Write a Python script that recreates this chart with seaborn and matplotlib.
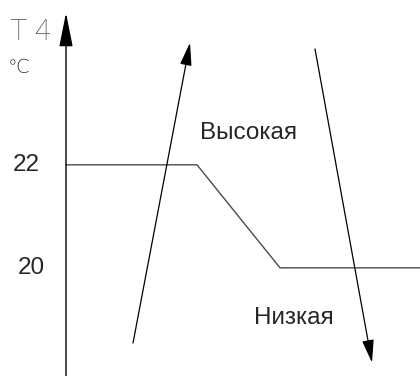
import matplotlib
matplotlib.use("Agg")
import matplotlib.pyplot as plt
import seaborn as sns
import pandas as pd

# setpoint curve (x: arbitrary units from the axis, y: temperature)
x_curve = [0, 131, 214, 354]
t_curve = [22, 22, 20, 20]
ticks = [22, 20]
tick_labels = ["22", "20"]

# rising / falling trend arrows: (x_start, t_start, x_end, t_end)
arrow_up = [67, 18.54, 124, 24.37]
arrow_down = [249, 24.25, 306, 18.16]

label_high = "Высокая"
label_low = "Низкая"

sns.set_style("white")
plt.rcParams['font.family'] = ['Liberation Sans', 'DejaVu Sans']

fig = plt.figure(figsize=(4.2, 3.76), dpi=100)
ax = fig.add_axes([0, 0, 1, 1])
ax.set_xlim(-66, 354)
ax.set_ylim(17.9, 25.2)
ax.axis("off")

df = pd.DataFrame({"x": x_curve, "t": t_curve})
sns.lineplot(data=df, x="x", y="t", ax=ax, color="#4a4a4a", lw=1.0, sort=False)

# y axis with arrow head
ax.annotate("", xy=(0, 24.95), xytext=(0, 17.9),
            arrowprops=dict(arrowstyle="-|>,head_length=2.1,head_width=0.42",
                            color="black", lw=1.0, shrinkA=0, shrinkB=0))

for a in (arrow_up, arrow_down):
    ax.annotate("", xy=(a[2], a[3]), xytext=(a[0], a[1]),
                arrowprops=dict(arrowstyle="-|>,head_length=1.4,head_width=0.36",
                                color="black", lw=0.9, shrinkA=0, shrinkB=0))

for t, lab in zip(ticks, tick_labels):
    dx = -40 if t == 22 else -35
    ax.text(dx, t, lab, fontsize=17.5, ha="center", va="center")

# axis caption in a thin grey face
ax.text(-36, 24.58, "T 4", fontsize=21, color="#555555", ha="center", va="center",
        family=["Roboto", "Liberation Sans"], fontweight="light", fontstretch="condensed")
ax.text(-47, 23.88, "℃", fontsize=14, color="#3a3a3a", ha="center", va="center",
        family=["DejaVu Sans"], fontweight="light")

ax.text(183, 22.62, label_high, fontsize=17.5, ha="center", va="center")
ax.text(228, 19.03, label_low, fontsize=17.5, ha="center", va="center")

fig.savefig("out.png", dpi=100)
